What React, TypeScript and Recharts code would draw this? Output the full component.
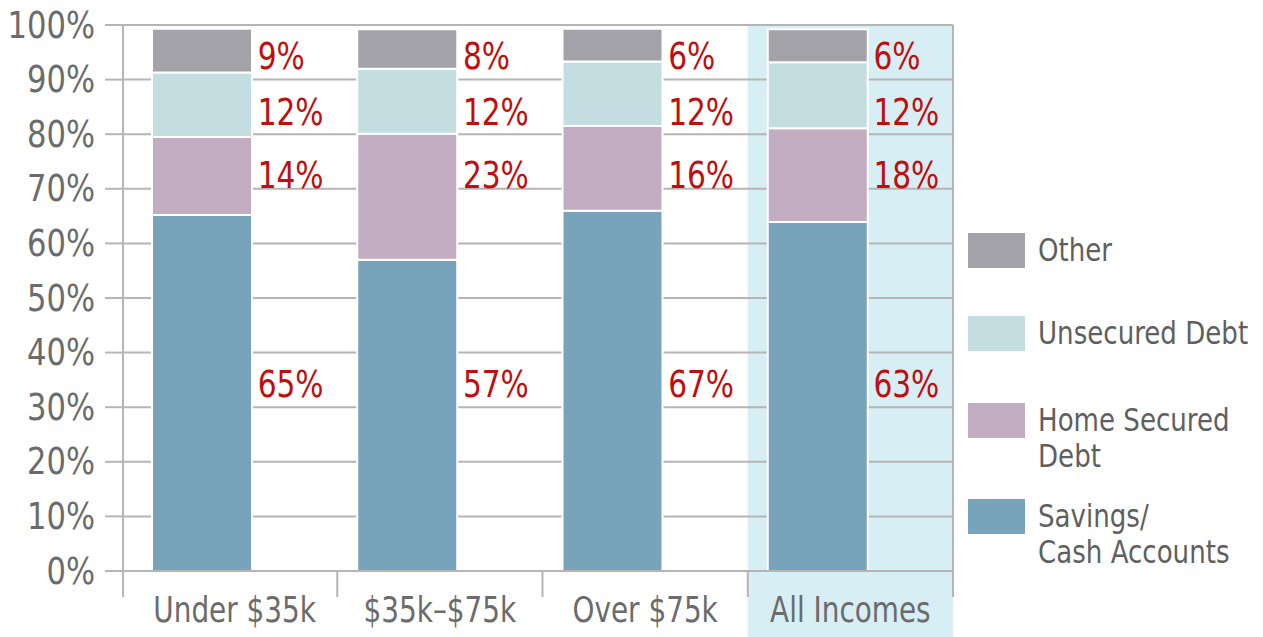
import React from 'react';
import {
  BarChart, Bar, XAxis, YAxis, CartesianGrid, ReferenceArea, ReferenceDot, Rectangle,
} from 'recharts';

const categories = ['Under $35k', '$35k–$75k', 'Over $75k', 'All Incomes'];

// segment heights as drawn, in %, bottom to top
const savings = [65.2, 57, 66, 63.9];
const homeSecured = [14.3, 23.1, 15.5, 17.2];
const unsecured = [11.8, 11.9, 11.8, 12.1];
const other = [8, 7.2, 6, 6];

// printed percentages next to the bars
const savingsLabels = ['65%', '57%', '67%', '63%'];
const homeSecuredLabels = ['14%', '23%', '16%', '18%'];
const unsecuredLabels = ['12%', '12%', '12%', '12%'];
const otherLabels = ['9%', '8%', '6%', '6%'];

const yTicks = [0, 10, 20, 30, 40, 50, 60, 70, 80, 90, 100];

const FONT = "'DejaVu Sans Condensed', 'Liberation Sans Narrow', 'Liberation Sans', sans-serif";
const GRID = '#b5b5b5';
const AXIS_TEXT = '#6b6b6b';
const RED = '#c00d0d';
const HIGHLIGHT = '#d7eef5';
const STRETCH = 1.12; // reference face is taller than the condensed one we have

const PAD_LEFT = 9;
const TICK_LEN = 26;
const BAR_SHIFT = -33;
const X_AXIS_H = 66;

// series bottom -> top; labelRow = y value (in %) where the printed label sits
const series = [
  { key: 'savings', name: ['Savings/', 'Cash Accounts'], color: '#77a3bb', labels: savingsLabels, labelRow: 34.2 },
  { key: 'home', name: ['Home Secured', 'Debt'], color: '#c2acc1', labels: homeSecuredLabels, labelRow: 72.6 },
  { key: 'unsecured', name: ['Unsecured Debt'], color: '#c4dde0', labels: unsecuredLabels, labelRow: 84.1 },
  { key: 'other', name: ['Other'], color: '#a3a2a8', labels: otherLabels, labelRow: 94.3 },
];

const data = categories.map((name, i) => ({
  name,
  savings: savings[i],
  home: homeSecured[i],
  unsecured: unsecured[i],
  other: other[i],
}));

const TallText = ({ x, y, children, ...rest }: any) => (
  <text transform={`translate(${x},${y}) scale(1,${STRETCH})`} x={0} y={0} fontFamily={FONT} {...rest}>
    {children}
  </text>
);

const ShiftedBar = (props: any) => (
  <Rectangle
    x={props.x + BAR_SHIFT}
    y={props.y}
    width={props.width}
    height={props.height}
    fill={props.fill}
    stroke="#ffffff"
    strokeWidth={2}
  />
);

const CategoryTick = (props: any) => {
  const { x, y, payload, index } = props;
  const half = payload?.offset || 103;
  const axisY = y - TICK_LEN;
  const lines = [index === 0 ? x - half - PAD_LEFT : x - half];
  if (index === categories.length - 1) lines.push(x + half);
  return (
    <g>
      {lines.map((lx) => (
        <line key={lx} x1={lx} x2={lx} y1={axisY} y2={y} stroke={GRID} strokeWidth={2} />
      ))}
      <TallText x={x} y={y + 25} textAnchor="middle" fontSize={31} fill={AXIS_TEXT}>
        {payload.value}
      </TallText>
    </g>
  );
};

const PercentTick = (props: any) => {
  const { x, y, payload } = props;
  return (
    <TallText x={x} y={y} textAnchor="end" dominantBaseline="central" fontSize={34} fill={AXIS_TEXT}>
      {`${payload.value}%`}
    </TallText>
  );
};

const Highlight = (p: any) => (
  <g>
    <rect x={p.x} y={p.y} width={p.width} height={p.height + X_AXIS_H} fill={HIGHLIGHT} />
    <line x1={p.x + p.width} x2={p.x + p.width} y1={p.y} y2={p.y + p.height} stroke={GRID} strokeWidth={2} />
  </g>
);

const legendTops = [0, 83, 170, 266];

const LegendBlock = () => (
  <div style={{ position: 'absolute', left: 968, top: 233, width: 295, fontFamily: FONT }}>
    {[...series].reverse().map((s, i) => (
      <div key={s.key} style={{ position: 'absolute', top: legendTops[i], left: 0 }}>
        <div style={{ position: 'absolute', left: 0, top: 0, width: 57, height: 35, background: s.color }} />
        <div style={{ position: 'absolute', left: 70, top: -1, fontSize: 29, lineHeight: '36px', color: '#5f5f5f', whiteSpace: 'nowrap' }}>
          {s.name.map((line) => (
            <div key={line} style={{ height: 36 }}>
              <span style={{ display: 'inline-block', transform: `scaleY(${STRETCH})`, transformOrigin: '50% 55%' }}>{line}</span>
            </div>
          ))}
        </div>
      </div>
    ))}
  </div>
);

export default function App() {
  return (
    <div style={{ position: 'absolute', left: 0, top: 0, width: 1263, height: 637, background: '#fff' }}>
      <BarChart
        width={1263}
        height={637}
        data={data}
        margin={{ top: 25, right: 310, bottom: 0, left: 0 }}
        barSize={100}
      >
        <ReferenceArea
          x1="All Incomes"
          x2="All Incomes"
          y1={0}
          y2={100}
          shape={Highlight}
          ifOverflow="visible"
          zIndex={-200}
        />
        <CartesianGrid vertical={false} stroke={GRID} strokeWidth={2} />
        <XAxis
          dataKey="name"
          interval={0}
          padding={{ left: PAD_LEFT, right: 0 }}
          height={X_AXIS_H}
          tickSize={TICK_LEN}
          tickMargin={0}
          tickLine={false}
          axisLine={{ stroke: GRID, strokeWidth: 2 }}
          tick={<CategoryTick />}
        />
        <YAxis
          type="number"
          domain={[0, 100]}
          ticks={yTicks}
          width={123}
          tickSize={18}
          tickMargin={10}
          tick={<PercentTick />}
          tickLine={{ stroke: GRID, strokeWidth: 2 }}
          axisLine={{ stroke: GRID, strokeWidth: 2 }}
        />
        {series.map((s) => (
          <Bar
            key={s.key}
            dataKey={s.key}
            stackId="a"
            fill={s.color}
            shape={ShiftedBar}
            isAnimationActive={false}
          />
        ))}
        {series.flatMap((s) =>
          categories.map((c, i) => (
            <ReferenceDot
              key={`${s.key}-${c}`}
              x={c}
              y={s.labelRow}
              r={0}
              shape={(p: any) => (
                <TallText
                  x={p.cx + BAR_SHIFT + 50 + 6}
                  y={p.cy}
                  dominantBaseline="central"
                  fontSize={33}
                  fill={RED}
                >
                  {s.labels[i]}
                </TallText>
              )}
            />
          ))
        )}
      </BarChart>
      <LegendBlock />
    </div>
  );
}
